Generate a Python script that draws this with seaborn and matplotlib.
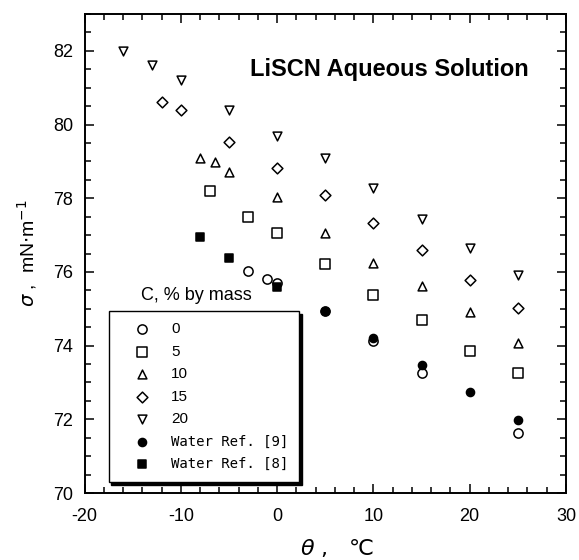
import numpy as np
import pandas as pd
import seaborn as sns
import matplotlib.pyplot as plt
from matplotlib.ticker import MultipleLocator

# surface tension of LiSCN aqueous solution
theta_0 = [-3, -1, 0, 5, 10, 15, 25]
sigma_0 = [76.03, 75.81, 75.71, 74.93, 74.12, 73.27, 71.64]
theta_5 = [-7, -3, 0, 5, 10, 15, 20, 25]
sigma_5 = [78.20, 77.48, 77.05, 76.21, 75.37, 74.69, 73.86, 73.25]
theta_10 = [-8, -6.5, -5, 0, 5, 10, 15, 20, 25]
sigma_10 = [79.08, 78.99, 78.72, 78.04, 77.07, 76.25, 75.63, 74.92, 74.06]
theta_15 = [-12, -10, -5, 0, 5, 10, 15, 20, 25]
sigma_15 = [80.60, 80.39, 79.52, 78.81, 78.10, 77.34, 76.59, 75.78, 75.01]
theta_20 = [-16, -13, -10, -5, 0, 5, 10, 15, 20, 25]
sigma_20 = [82.00, 81.61, 81.21, 80.39, 79.69, 79.09, 78.27, 77.45, 76.64, 75.92]
theta_w9 = [5, 10, 15, 20, 25]
sigma_w9 = [74.94, 74.20, 73.47, 72.73, 71.98]
theta_w8 = [-8, -5, 0]
sigma_w8 = [76.96, 76.37, 75.58]

labels = ["0", "5", "10", "15", "20", "Water Ref. [9]", "Water Ref. [8]"]

sns.set_style("ticks")
plt.rcParams["font.family"] = ["Liberation Sans", "DejaVu Sans"]
plt.rcParams["mathtext.fontset"] = "dejavusans"
plt.rcParams["axes.unicode_minus"] = False
plt.rcParams["text.color"] = "black"
plt.rcParams["axes.labelcolor"] = "black"

fig, ax = plt.subplots(figsize=(5.79, 5.60), dpi=100)
fig.subplots_adjust(left=0.146, right=0.9775, bottom=0.1196, top=0.975)

#series: (x, y, marker, face, size)
series = [
    (theta_0, sigma_0, "o", "white", 44),
    (theta_5, sigma_5, "s", "white", 46),
    (theta_10, sigma_10, "^", "white", 40),
    (theta_15, sigma_15, "D", "white", 30),
    (theta_20, sigma_20, "v", "white", 40),
    (theta_w9, sigma_w9, "o", "black", 34),
    (theta_w8, sigma_w8, "s", "black", 34),
]
for (x, y, m, fc, s), lab in zip(series, labels):
    df = pd.DataFrame({"theta": x, "sigma": y})
    sns.scatterplot(data=df, x="theta", y="sigma", marker=m, s=s,
                    facecolor=fc, edgecolor="black", linewidth=1.1,
                    label=lab, ax=ax, zorder=3)

ax.set_xlim(-20, 30)
ax.set_ylim(70, 83)
ax.xaxis.set_major_locator(MultipleLocator(10))
ax.xaxis.set_minor_locator(MultipleLocator(2))
ax.yaxis.set_major_locator(MultipleLocator(2))
ax.yaxis.set_minor_locator(MultipleLocator(0.5))
ax.tick_params(which="both", direction="in", top=True, right=True,
               colors="black", width=1.1)
ax.tick_params(which="major", length=6.5, labelsize=13)
ax.tick_params(axis="x", which="major", pad=11)
ax.tick_params(axis="y", which="major", pad=8)
ax.tick_params(which="minor", length=4)
for sp in ax.spines.values():
    sp.set_linewidth(1.4)
    sp.set_color("black")

ax.set_xlabel(r"$\theta$ ,   ℃", fontsize=16, family=["DejaVu Sans", "Noto Sans CJK JP"],
              va="center")
ax.xaxis.set_label_coords(0.524, -0.115)
ax.set_ylabel(r"$\sigma$ ,  mN$\cdot$m$^{-1}$", fontsize=14, labelpad=10)

ax.text(0.634, 0.885, "LiSCN Aqueous Solution", transform=ax.transAxes,
        ha="center", va="center", fontsize=17, fontweight="bold")

leg = ax.legend(loc="lower left", bbox_to_anchor=(0.05, 0.023), borderaxespad=0,
                frameon=True, fancybox=False, edgecolor="black", framealpha=1,
                shadow={"color": "black", "alpha": 1}, fontsize=11,
                borderpad=0.7, handlelength=3.0, handletextpad=0.4,
                labelspacing=0.56, scatterpoints=1)
leg.get_frame().set_linewidth(1.0)
for t in leg.get_texts():
    t.set_color("black")
for t in leg.get_texts()[5:]:
    t.set_fontfamily("DejaVu Sans Mono")
    t.set_fontsize(10.1)
ax.text(0.233, 0.413, "C, % by mass", transform=ax.transAxes,
        ha="center", va="center", fontsize=13)

plt.savefig("out.png", dpi=100)
